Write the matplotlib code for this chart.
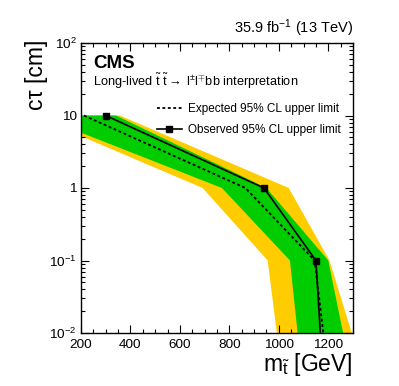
import matplotlib
matplotlib.use("Agg")
import matplotlib.pyplot as plt
from matplotlib.lines import Line2D
from matplotlib.ticker import FixedLocator, FixedFormatter, LogLocator, MultipleLocator, NullFormatter

plt.rcParams['font.family'] = ['Liberation Sans', 'DejaVu Sans']
plt.rcParams['mathtext.fontset'] = 'custom'
plt.rcParams['mathtext.rm'] = 'Liberation Sans'
plt.rcParams['mathtext.it'] = 'Liberation Sans:italic'
plt.rcParams['mathtext.bf'] = 'Liberation Sans:bold'

# ---- data ----
obs_mass = [300, 940, 1150, 1168]
obs_ctau = [10, 1, 0.1, 0.01]
exp_mass = [212, 865, 1145, 1180]
exp_ctau = [10, 1, 0.1, 0.01]

# +-1 sigma band (green)
s1_up_mass = [200, 342, 950, 1200, 1260]
s1_up_ctau = [10, 10, 1, 0.1, 0.01]
s1_lo_mass = [200, 770, 1045, 1076]
s1_lo_ctau = [5.8, 1, 0.1, 0.01]
# +-2 sigma band (yellow)
s2_up_mass = [200, 357, 1040, 1205, 1295]
s2_up_ctau = [10, 10, 1, 0.1, 0.01]
s2_lo_mass = [200, 692, 955, 992]
s2_lo_ctau = [5.2, 1, 0.1, 0.01]

xticks = [200, 400, 600, 800, 1000, 1200]
xtick_labels = ["200", "400", "600", "800", "1000", "1200"]
yticks = [0.01, 0.1, 1, 10, 100]
ytick_labels = [r"$10^{-2}$", r"$10^{-1}$", "1", "10", r"$10^{2}$"]

W, H = 399, 386
fig = plt.figure(figsize=(W / 100, H / 100), dpi=100)
ax = fig.add_axes([81 / W, 1 - 333 / H, (353 - 81) / W, (333 - 43) / H])

yellow = "#FFCC00"
green = "#00CC00"

ax.fill(s2_up_mass + s2_lo_mass[::-1], s2_up_ctau + s2_lo_ctau[::-1],
        color=yellow, lw=0, zorder=1)
ax.fill(s1_up_mass + s1_lo_mass[::-1], s1_up_ctau + s1_lo_ctau[::-1],
        color=green, lw=0, zorder=2)
ax.plot(exp_mass, exp_ctau, color="black", lw=1.3, ls=(0, (1.6, 1.4)), zorder=3)
ax.plot(obs_mass, obs_ctau, color="black", lw=1.2, marker="s", ms=4,
        markevery=[0, 1, 2], zorder=4)

ax.set_yscale("log")
ax.set_xlim(200, 1300)
ax.set_ylim(0.01, 100)

ax.xaxis.set_major_locator(FixedLocator(xticks))
ax.xaxis.set_major_formatter(FixedFormatter(xtick_labels))
ax.xaxis.set_minor_locator(MultipleLocator(50))
ax.yaxis.set_major_locator(FixedLocator(yticks))
ax.yaxis.set_major_formatter(FixedFormatter(ytick_labels))
ax.yaxis.set_minor_locator(LogLocator(base=10, subs=range(2, 10)))
ax.yaxis.set_minor_formatter(NullFormatter())

ax.tick_params(which="both", direction="in", top=True, right=True,
               labelsize=9.7, width=0.8)
ax.tick_params(which="major", length=6)
ax.tick_params(axis="x", which="major", pad=4.5)
ax.tick_params(axis="y", which="major", pad=3)
ax.tick_params(which="minor", length=3)
for s in ax.spines.values():
    s.set_linewidth(1.0)

# texts
ax.text(0.044, 0.931, "CMS", transform=ax.transAxes, fontsize=13.5,
        fontweight="bold", ha="left", va="center")
ax.text(0.044, 0.867,
        r"Long-lived $\tilde{\mathrm{t}}$ $\tilde{\mathrm{t}}$$\rightarrow$ l$^{\pm}$l$^{\mp}$bb interpretation",
        transform=ax.transAxes, fontsize=9.2, ha="left", va="center")
ax.text(1.0, 1.034, r"35.9 fb$^{-1}$ (13 TeV)", transform=ax.transAxes,
        fontsize=10.5, ha="right", va="baseline")

fig.text(37 / W, 1 - 40 / H, "cτ [cm]", rotation=90, ha="center", va="top",
         fontsize=16.5)
fig.text(353 / W, 1 - 365 / H, r"m$_{\tilde{\mathrm{t}}}$ [GeV]", ha="right",
         va="center", fontsize=16.5)

handles = [Line2D([], [], color="black", lw=1.3, ls=(0, (1.6, 1.4))),
           Line2D([], [], color="black", lw=1.2, marker="s", ms=4)]
labels = ["Expected 95% CL upper limit", "Observed 95% CL upper limit"]
ax.legend(handles, labels, loc="upper left", bbox_to_anchor=(0.279, 0.794),
          frameon=False, fontsize=8.5, borderpad=0, borderaxespad=0,
          handlelength=2.12, handletextpad=0.5, labelspacing=0.78,
          markerscale=1.0)

fig.savefig("out.png", dpi=100)
